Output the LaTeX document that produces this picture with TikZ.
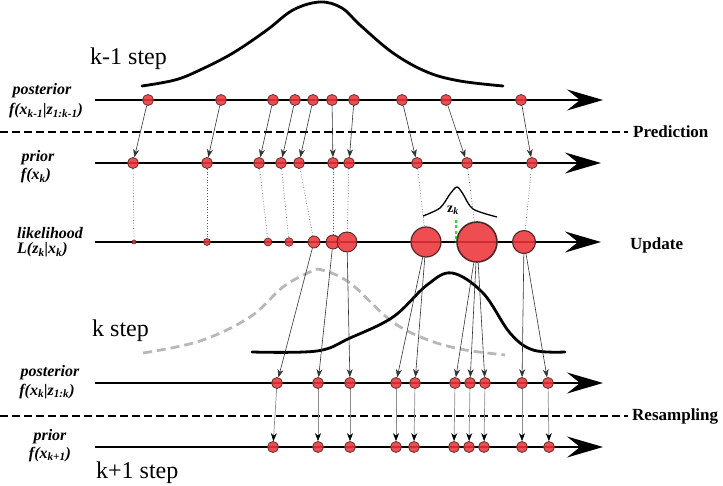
\documentclass[tikz,border=0pt]{standalone}
\usepackage{fontspec}
\setmainfont{Liberation Serif}
\usetikzlibrary{arrows.meta}
\definecolor{pred}{RGB}{236,52,58}
\definecolor{pedge}{RGB}{80,40,40}
\definecolor{zgreen}{RGB}{40,225,40}
\begin{document}
\begin{tikzpicture}[x=1pt,y=-1pt,
  axisline/.style={line width=2pt,-{Stealth[length=36pt,width=21pt,inset=13pt]}},
  sepline/.style={line width=2.8pt,dash pattern=on 8pt off 4pt},
  ptc/.style={circle,draw=pedge,fill=pred,fill opacity=0.88,draw opacity=1,line width=0.7pt,inner sep=0pt,minimum size=#1},
  ptc/.default=11pt,
  parr/.style={line width=0.6pt,draw=black!80,-{Stealth[length=8pt,width=6pt,inset=2.5pt]}},
  garr/.style={line width=0.7pt,draw=black!45,-{Stealth[length=8pt,width=6pt,inset=2.5pt,color=black]}},
  dotl/.style={line width=0.7pt,draw=black!65,dotted},
  pdfline/.style={line width=2.8pt,line cap=round},
  oldpdf/.style={line width=2.8pt,draw=black!28,dash pattern=on 9pt off 5pt},
  lbl/.style={font=\fontsize{16}{18}\selectfont\bfseries\itshape,inner sep=0pt},
  steplbl/.style={font=\fontsize{24}{26}\selectfont,inner sep=0pt,anchor=base west},
  phase/.style={font=\fontsize{17}{19}\selectfont\bfseries,inner sep=0pt,anchor=base west}
]
\useasboundingbox (0,0) rectangle (723,486);

% axes
\coordinate (s1) at (95,100); \coordinate (e1) at (603,100);
\coordinate (s2) at (95,163); \coordinate (e2) at (601,163);
\coordinate (s3) at (95,242); \coordinate (e3) at (601,242);
\coordinate (s4) at (95,383); \coordinate (e4) at (603,383);
\coordinate (s5) at (95,447); \coordinate (e5) at (603,447);
\foreach \k in {1,...,5} \draw[axisline] (s\k) -- (e\k);

% separators
\coordinate (d1s) at (0,132); \coordinate (d1e) at (628,132);
\coordinate (d2s) at (0,416); \coordinate (d2e) at (628,416);
\draw[sepline] (d1s) -- (d1e);
\draw[sepline] (d2s) -- (d2e);
\node[phase] (tpred) at (633,138) {Prediction};
\node[phase] (tupd) at (630,250) {Update};
\node[phase] (tres) at (632,420) {Resampling};

% densities
\draw[pdfline] plot[smooth,tension=0.6] coordinates {(142,86) (175,80) (200,70) (233,53) (267,30) (293,10) (320,2) (342,8) (360,25) (393,53) (427,72) (460,81) (503,86)};
\draw[oldpdf] plot[smooth,tension=0.6] coordinates {(143,353) (200,341) (250,317) (283,287) (310,272) (322,270) (350,283) (390,320) (423,338) (460,349) (505,355)};
\draw[pdfline] plot[smooth,tension=0.6] coordinates {(252,352) (317,351) (350,338) (393,317) (427,285) (452,273) (483,293) (510,333) (533,350) (565,352)};

% measurement z_k
\draw[line width=1.3pt] plot[smooth,tension=0.5] coordinates {(423,216) (440,208) (450,194) (457,187) (463,194) (473,209) (497,217)};
\node[font=\fontsize{14}{15}\selectfont\bfseries,inner sep=0pt] (zk) at (453,210) {z\textsubscript{\itshape k}};
\coordinate (zt) at (456,220); \coordinate (zb) at (456,242);
\draw[zgreen,line width=1.8pt,dash pattern=on 3pt off 2.5pt] (zt) -- (zb);
\node[zgreen,font=\fontsize{10}{10}\selectfont\bfseries,inner sep=0pt] (zx) at (456,242) {$\times$};

% particles
\foreach \x [count=\i] in {148,221,273,295,313,332,354,402,446,521}
  \node[ptc] (a\i) at (\x,100) {};
\foreach \x [count=\i] in {133,207,259,281,299,333,349,417,467,532}
  \node[ptc] (b\i) at (\x,163) {};
\foreach \x/\s/\w [count=\i] in {134/4pt/0.5pt,207/7pt/0.6pt,268/8pt/0.6pt,289/8.6pt/0.6pt,314/12pt/0.7pt,333/14pt/0.8pt,347/20pt/0.9pt,426/30pt/1.2pt,477/40pt/1.6pt,524/23pt/1.1pt}
  \node[ptc=\s,line width=\w] (l\i) at (\x,242) {};
\foreach \x [count=\i] in {277,318,350,396,415,455,470,485,522,548}
  \node[ptc] (c\i) at (\x,383) {};
\foreach \x [count=\i] in {273,318,350,396,414,454,469,484,522,549}
  \node[ptc] (d\i) at (\x,447) {};

% connectors
\foreach \i in {1,...,10} \draw[parr] (a\i) -- (b\i);
\foreach \i in {1,...,10} \draw[dotl] (b\i) -- (l\i);
\foreach \p/\q in {5/1,6/2,7/3,8/4,8/5,9/6,9/7,9/8,10/9,10/10}
  \draw[parr] (l\p) -- (c\q);
\foreach \i in {1,...,10} \draw[garr] (c\i) -- (d\i);

% labels
\node[lbl,anchor=base] (p1a) at (42,95) {posterior};
\node[lbl,anchor=base] (p1b) at (46,115) {f(x\textsubscript{k-1}|z\textsubscript{1:k-1})};
\node[lbl,anchor=base] (q1a) at (38,162) {prior};
\node[lbl,anchor=base] (q1b) at (36,180) {f(x\textsubscript{k})};
\node[lbl,anchor=base west] (la) at (17,239) {likelihood};
\node[lbl,anchor=base west] (lb) at (17,254) {L(z\textsubscript{k}|x\textsubscript{k})};
\node[lbl,anchor=base] (p2a) at (50,377) {posterior};
\node[lbl,anchor=base] (p2b) at (47,395) {f(x\textsubscript{k}|z\textsubscript{1:k})};
\node[lbl,anchor=base] (q2a) at (50,440) {prior};
\node[lbl,anchor=base] (q2b) at (50,458) {f(x\textsubscript{k+1})};

\node[steplbl] (st1) at (90,65) {k-1 step};
\node[steplbl] (st2) at (92,337) {k step};
\node[steplbl] (st3) at (96,478) {k+1 step};
\end{tikzpicture}
\end{document}
